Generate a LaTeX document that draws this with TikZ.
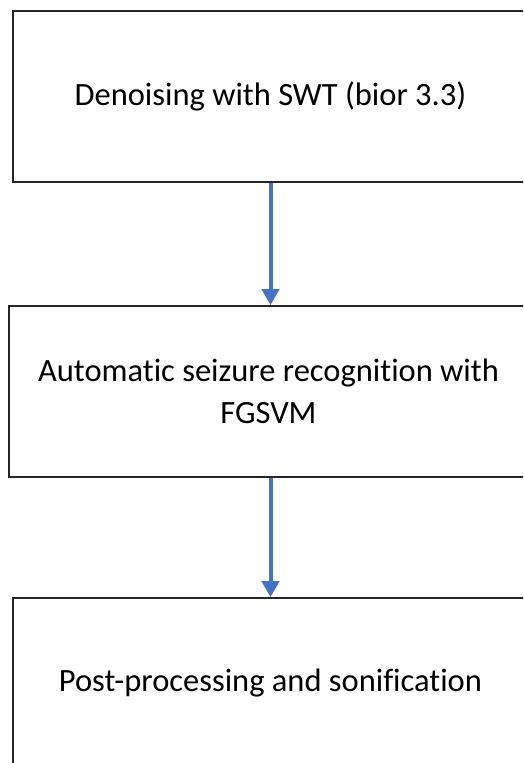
\documentclass[tikz,border=0pt]{standalone}
\usepackage{fontspec}
\setmainfont{Carlito}[Ligatures=NoCommon]
\usetikzlibrary{positioning,arrows.meta}
\definecolor{flowblue}{HTML}{4472C4}
\definecolor{boxgray}{HTML}{262626}
\begin{document}
\begin{tikzpicture}[x=1pt,y=-1pt,
  stage/.style = {shape=rectangle, draw=boxgray, line width=1.6pt,
    minimum width=515pt, minimum height=171pt, align=center,
    font=\fontsize{32.5}{42}\selectfont},
  flow/.style = {-{Triangle[length=16pt,width=17pt]}, line width=4pt, flowblue}]
  \useasboundingbox (0,0) rectangle (523,763);
  \clip (0,0) rectangle (523,763);
  \node[stage] (denoise) at (270.5,96.5) {Denoising with SWT (bior 3.3)};
  \node[stage, minimum width=519pt] (recog) at (268.5,391.5)
    {Automatic seizure recognition with\\FGSVM};
  \node[stage] (post) at (270.5,683.5) {Post-processing and sonification};
  \draw[flow] (denoise.south) -- (denoise.south |- recog.north);
  \draw[flow] (recog.south -| denoise.south) -- (post.north);
\end{tikzpicture}
\end{document}
